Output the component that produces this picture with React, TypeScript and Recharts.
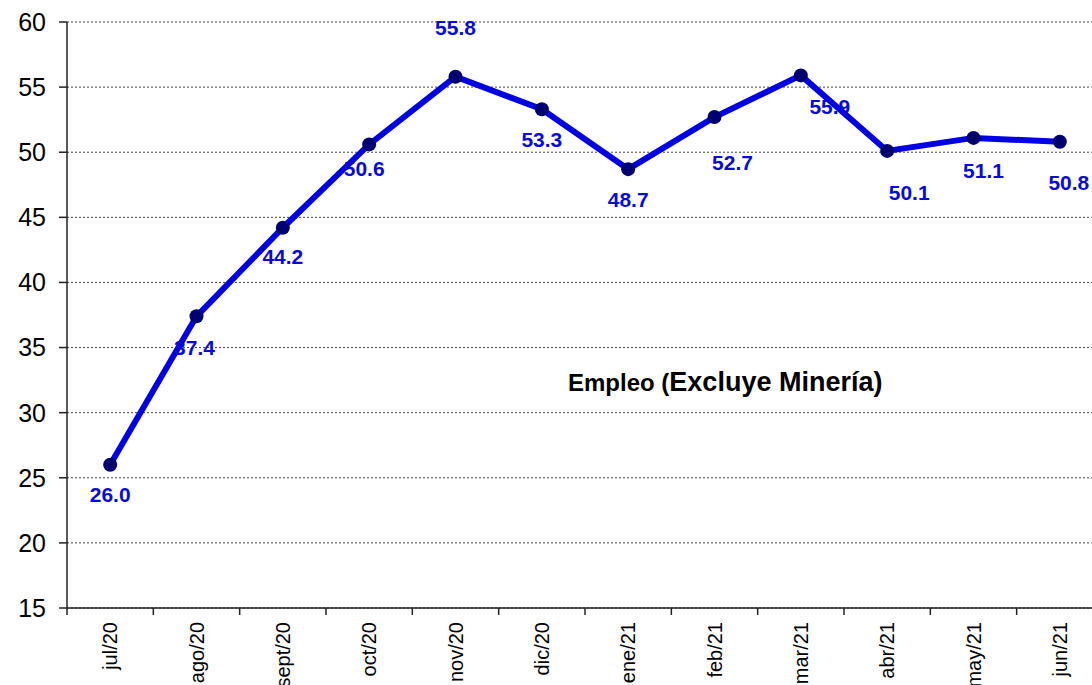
import React from "react";
import { LineChart, Line, XAxis, YAxis, CartesianGrid, LabelList } from "recharts";

const months = [
  "jul/20", "ago/20", "sept/20", "oct/20", "nov/20", "dic/20",
  "ene/21", "feb/21", "mar/21", "abr/21", "may/21", "jun/21",
];
const empleo = [26.0, 37.4, 44.2, 50.6, 55.8, 53.3, 48.7, 52.7, 55.9, 50.1, 51.1, 50.8];
const yTicks = [15, 20, 25, 30, 35, 40, 45, 50, 55, 60];

// label nudges (px) relative to each point, as placed in the original
const labelDx = [0, -2, 0, -5, 0, 0, 0, 18, 29, 22, 10, 9];
const labelDy = [30, 31, 29, 24, -49, 30, 30, 45, 31, 42, 33, 41];

const data = months.map((m, i) => ({ label: m, value: empleo[i] }));

const CHART_W = 1103;
const CHART_H = 685;
const PLOT_LEFT = 67;
const BAND = (CHART_W - PLOT_LEFT) / months.length;
const FONT = "'Liberation Sans', Arial, sans-serif";

const MonthTick = ({ x, y, payload }: any) => {
  const left = x - BAND / 2;
  return (
    <g>
      <line x1={left} y1={y} x2={left} y2={y + 7} stroke="#222" strokeWidth={1.5} />
      <text
        x={x}
        y={y + 14}
        transform={`rotate(-90, ${x}, ${y + 14})`}
        textAnchor="end"
        dominantBaseline="central"
        fontFamily={FONT}
        fontSize={20}
        fill="#000"
      >
        {payload.value}
      </text>
    </g>
  );
};

const ValueLabel = (props: any) => {
  const { x, y, value, index } = props;
  return (
    <text
      x={x + labelDx[index]}
      y={y + labelDy[index]}
      textAnchor="middle"
      dominantBaseline="central"
      fontFamily={FONT}
      fontWeight="bold"
      fontSize={21}
      fill="#0A0AD4"
    >
      {Number(value).toFixed(1)}
    </text>
  );
};

export default function App() {
  return (
    <div
      style={{
        position: "fixed",
        left: 0,
        top: 0,
        width: 1092,
        height: 685,
        overflow: "hidden",
        background: "#fff",
      }}
    >
      <LineChart
        width={CHART_W}
        height={CHART_H}
        data={data}
        margin={{ top: 22, right: 0, left: 0, bottom: 0 }}
      >
        <CartesianGrid vertical={false} stroke="#444" strokeDasharray="2 2" strokeWidth={1} />
        <XAxis
          dataKey="label"
          scale="band"
          height={77}
          interval={0}
          tickSize={0}
          tickMargin={0}
          tickLine={false}
          tick={<MonthTick />}
          axisLine={{ stroke: "#222", strokeWidth: 1.5 }}
        />
        <YAxis
          width={PLOT_LEFT}
          domain={[15, 60]}
          ticks={yTicks}
          interval={0}
          tickSize={8}
          tickMargin={13}
          tickLine={{ stroke: "#222", strokeWidth: 1.5 }}
          axisLine={{ stroke: "#222", strokeWidth: 1.5 }}
          tick={{ fill: "#000", fontSize: 25, fontFamily: FONT }}
        />
        <Line
          type="linear"
          dataKey="value"
          stroke="#0000E0"
          strokeWidth={6}
          dot={{ r: 7, fill: "#000070", stroke: "#000070", strokeWidth: 0 }}
          activeDot={false}
          isAnimationActive={false}
        >
          <LabelList dataKey="value" content={<ValueLabel />} />
        </Line>
      </LineChart>
      <div
        style={{
          position: "absolute",
          left: 568,
          top: 367,
          fontFamily: FONT,
          fontWeight: "bold",
          color: "#000",
          whiteSpace: "nowrap",
          lineHeight: "30px",
        }}
      >
        <span style={{ fontSize: 24 }}>Empleo (</span>
        <span style={{ fontSize: 27 }}>Excluye Minería)</span>
      </div>
    </div>
  );
}
